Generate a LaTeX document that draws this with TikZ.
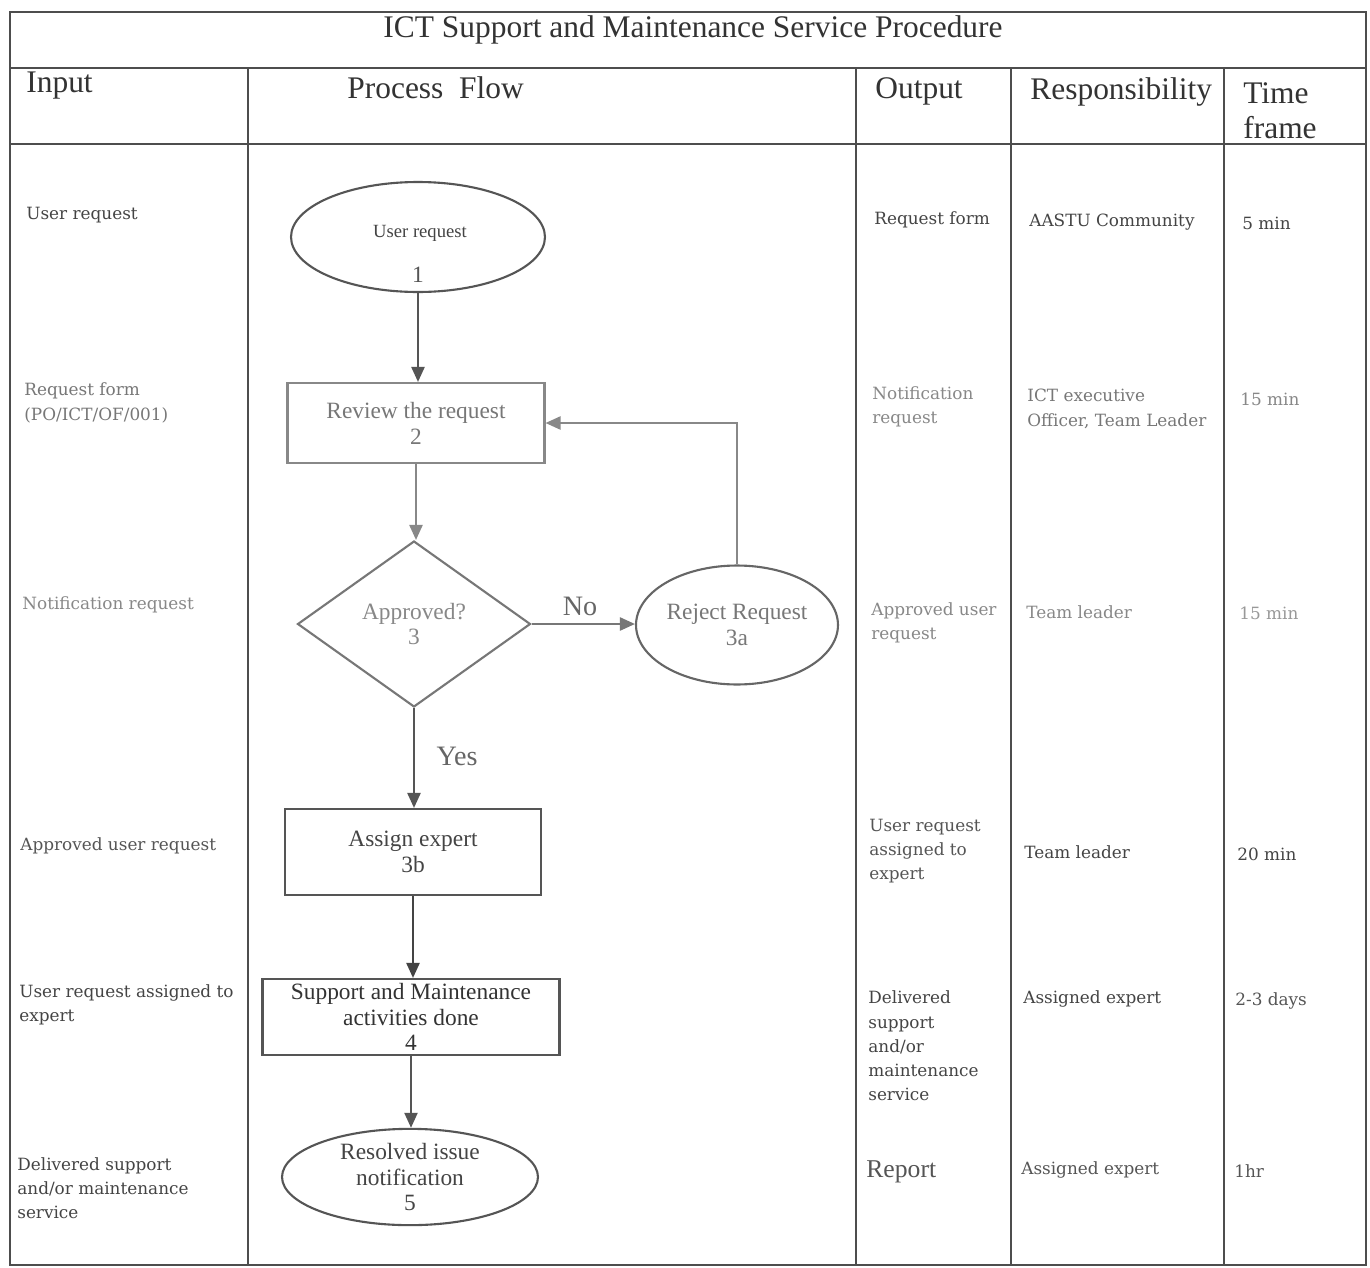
\documentclass[tikz,border=0pt]{standalone}
\usepackage{fontspec}
\setmainfont{Liberation Serif}
\newfontfamily\bodyf{DejaVu Serif}
\usetikzlibrary{shapes.geometric,arrows.meta}
\definecolor{tline}{HTML}{4D4D4D}
\definecolor{cA}{HTML}{333333}
\definecolor{cB}{HTML}{444444}
\definecolor{cC}{HTML}{555555}
\definecolor{cD}{HTML}{666666}
\definecolor{cE}{HTML}{777777}
\definecolor{cF}{HTML}{888888}
\definecolor{cG}{HTML}{999999}
\begin{document}
\begin{tikzpicture}[x=0.02cm,y=-0.02cm,
  rule/.style={draw=tline,line width=1.1pt},
  hdr/.style={font=\fontsize{17.9}{19.8}\selectfont,text=cA,inner sep=0,align=left},
  cell/.style={font=\bodyf\fontsize{9.6}{13.8}\selectfont,align=left,anchor=west,inner sep=0},
  fshape/.style={line width=1.2pt,inner sep=0},
  ftxt/.style={font=\fontsize{13.3}{14.7}\selectfont,align=center},
  arr/.style={line width=1.3pt,-{Triangle[length=0.3cm,width=0.26cm]}},
  lbl/.style={font=\fontsize{16}{18}\selectfont,text=cD,inner sep=0}
]
\useasboundingbox (0,0) rectangle (1370,1268);
\fill[white] (0,0) rectangle (1370,1268);

% table
\draw[rule] (10,12) rectangle (1366,1265);
\draw[rule] (10,68) -- (1366,68);
\draw[rule] (10,144) -- (1366,144);
\draw[rule] (248,68) -- (248,1265);
\draw[rule] (856,68) -- (856,1265);
\draw[rule] (1011,68) -- (1011,1265);
\draw[rule] (1224,68) -- (1224,1265);

% title and headers
\node[hdr] (title) at (693,30) {ICT Support and Maintenance Service Procedure};
\node[hdr,anchor=west] (hin) at (26,86) {Input};
\node[hdr,anchor=west] (hpf) at (347,88) {Process\ \ Flow};
\node[hdr,anchor=west] (hout) at (875,91) {Output};
\node[hdr,anchor=west] (hres) at (1030,92) {Responsibility};
\node[hdr,anchor=west] (htf) at (1243,111) {Time\\frame};

% input column
\node[cell,text=cB] (i1) at (26,215) {User request};
\node[cell,text=cE] (i2) at (24,403) {Request form\\(PO/ICT/OF/001)};
\node[cell,text=cF] (i3) at (22,605) {Notification request};
\node[cell,text=cC] (i4) at (20,846) {Approved user request};
\node[cell,text=cB] (i5) at (19,1005) {User request assigned to\\expert};
\node[cell,text=cB] (i6) at (17,1188) {Delivered support\\and/or maintenance\\service};

% output column
\node[cell,text=cB] (o1) at (874,220) {Request form};
\node[cell,text=cF] (o2) at (872,407) {Notification\\request};
\node[cell,text=cF] (o3) at (871,623) {Approved user\\request};
\node[cell,text=cC] (o4) at (869,851) {User request\\assigned to\\expert};
\node[cell,text=cB] (o5) at (868,1046) {Delivered\\support\\and/or\\maintenance\\service};
\node[cell,text=cC,font=\fontsize{14.6}{16}\selectfont] (o6) at (866,1172) {Report};

% responsibility column
\node[cell,text=cB] (r1) at (1029,222) {AASTU Community};
\node[cell,text=cE] (r2) at (1027,409) {ICT executive\\Officer, Team Leader};
\node[cell,text=cF] (r3) at (1026,612) {Team leader};
\node[cell,text=cB] (r4) at (1024,852) {Team leader};
\node[cell,text=cB] (r5) at (1023,999) {Assigned expert};
\node[cell,text=cC] (r6) at (1021,1170) {Assigned expert};

% time frame column
\node[cell,text=cB] (t1) at (1242,223) {5 min};
\node[cell,text=cF] (t2) at (1240,399) {15 min};
\node[cell,text=cG] (t3) at (1239,613) {15 min};
\node[cell,text=cB] (t4) at (1237,854) {20 min};
\node[cell,text=cC] (t5) at (1235,1001) {2-3 days};
\node[cell,text=cC] (t6) at (1234,1171) {1hr};

% flowchart shapes
\node[fshape,ellipse,draw=cC,minimum width=5.08cm,minimum height=2.2cm] (n1) at (418,237) {};
\node[font=\fontsize{10.6}{12}\selectfont,text=cB,inner sep=0] (n1t) at (420,233) {User request};
\node[font=\fontsize{13.3}{14.7}\selectfont,text=cC,inner sep=0] (n1n) at (418,275) {1};

\node[fshape,rectangle,draw=cF,minimum width=5.14cm,minimum height=1.6cm,ftxt,text=cE] (n2) at (416,423) {Review the request\\2};

\node[fshape,diamond,draw=cE,minimum width=4.66cm,minimum height=3.32cm,ftxt,text=cF] (n3) at (414,624) {Approved?\\3};

\node[fshape,ellipse,draw=cD,minimum width=4.04cm,minimum height=2.38cm,ftxt,text=cE] (n3a) at (737,625) {Reject Request\\3a};

\node[fshape,rectangle,draw=cC,minimum width=5.12cm,minimum height=1.72cm,ftxt,text=cB] (n3b) at (413,852) {Assign expert\\3b};

\node[fshape,rectangle,draw=cC,minimum width=5.94cm,minimum height=1.52cm,ftxt,text=cA] (n4) at (411,1017) {Support and Maintenance\\activities done\\4};

\node[fshape,ellipse,draw=cC,minimum width=5.12cm,minimum height=1.72cm,ftxt,text=cB] (n5) at (410,1177) {Resolved issue\\notification\\5};

% connectors
\draw[arr,draw=cC] (n1.south) -- (n1.south |- n2.north);
\draw[arr,draw=cF] (n2.south) -- (n2.south |- n3.north);
\draw[arr,draw=cE] (n3.east) -- (n3.east -| n3a.west);
\draw[arr,draw=cF] (n3a.north) |- (n2.east);
\draw[arr,draw=cC] (n3.south) -- (n3.south |- n3b.north);
\draw[arr,draw=cB] (n3b.south) -- (n3b.south |- n4.north);
\draw[arr,draw=cC] (n4.south) -- (n4.south |- n5.north);

\node[lbl] (no) at (580,606) {No};
\node[lbl] (yes) at (457,756) {Yes};
\end{tikzpicture}
\end{document}
